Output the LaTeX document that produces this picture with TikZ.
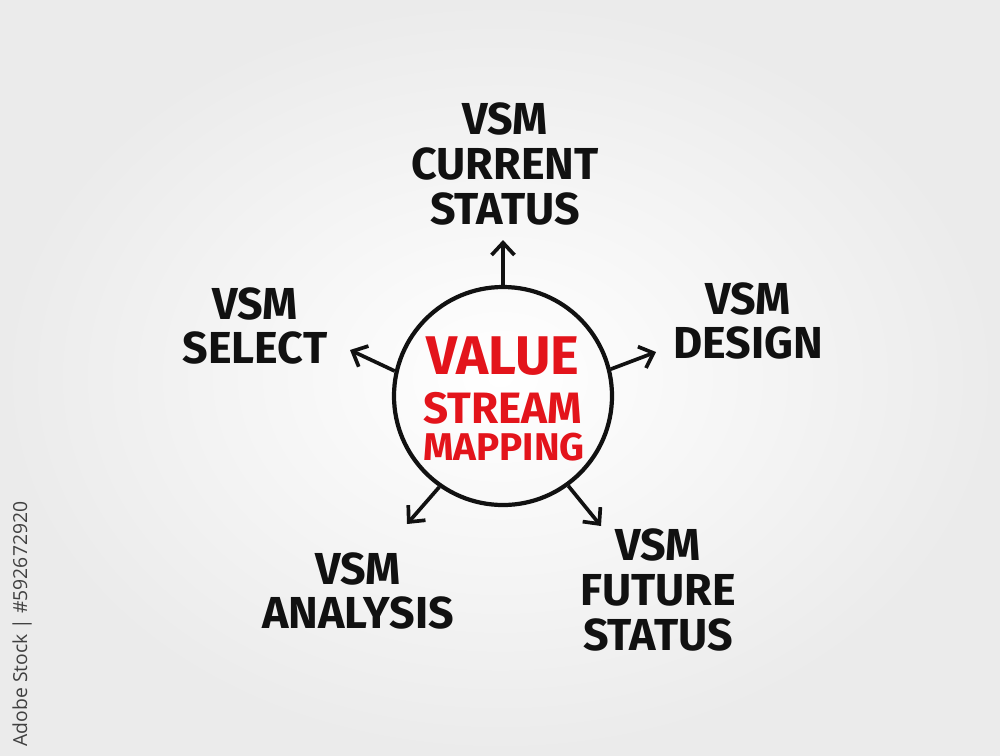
\documentclass[tikz,border=0pt]{standalone}
\usepackage{fontspec}
\setmainfont{Fira Sans}
\newfontfamily\wmfont{Open Sans}
\usetikzlibrary{arrows.meta}
\definecolor{vsmred}{HTML}{E3141B}
\definecolor{ink}{HTML}{111111}
\definecolor{bgedge}{HTML}{EBEBEB}
\tikzset{
  lbl/.style={font=\bfseries\fontsize{25.5}{25.5}\selectfont, text=ink, align=center, inner sep=0pt},
  redtxt/.style={text=vsmred, inner sep=0pt, font=\bfseries},
  conn/.style={draw=ink, line width=2.1pt, -{Straight Barb[length=7pt,width=13pt,line width=2.1pt]}},
}
\begin{document}
\begin{tikzpicture}[x=0.02cm,y=-0.02cm]
\useasboundingbox (0,0) rectangle (1000,755);
\shade[inner color=white, outer color=bgedge] (0,0) rectangle (1000,755);
% center circle
\node[circle, draw=ink, line width=2.4pt, minimum size=218*0.02cm, inner sep=0pt] (c) at (503,396) {};
\node[redtxt, font=\bfseries\fontsize{31}{31}\selectfont] (t1) at (503,356) {VALUE};
\node[redtxt, font=\bfseries\fontsize{25}{25}\selectfont] (t2) at (503,408) {STREAM};
\node[redtxt, font=\bfseries\fontsize{22}{22}\selectfont] (t3) at (504,447) {MAPPING};
% labels
\node[lbl] (top) at (505,164) {VSM\\CURRENT\\STATUS};
\node[lbl] (sel) at (255,326) {VSM\\SELECT};
\node[lbl] (des) at (748,321) {VSM\\DESIGN};
\node[lbl] (ana) at (358,591) {VSM\\ANALYSIS};
\node[lbl] (fut) at (658,590) {VSM\\FUTURE\\STATUS};
% arrow ends
\coordinate (eTop) at (503,240);
\coordinate (eSel) at (350,350);
\coordinate (eDes) at (656,352);
\coordinate (eAna) at (407,524);
\coordinate (eFut) at (601,526);
\draw[conn] (c.90) -- (eTop);
\draw[conn] (c.167) -- (eSel);
\draw[conn] (c.14) -- (eDes);
\draw[conn] (c.235) -- (eAna);
\draw[conn] (c.306) -- (eFut);
% stock caption
\node[rotate=90, text=black!75, font=\wmfont\fontsize{11}{11}\selectfont, inner sep=0pt] (wm) at (22,624) {Adobe Stock | \#592672920};
\end{tikzpicture}
\end{document}
